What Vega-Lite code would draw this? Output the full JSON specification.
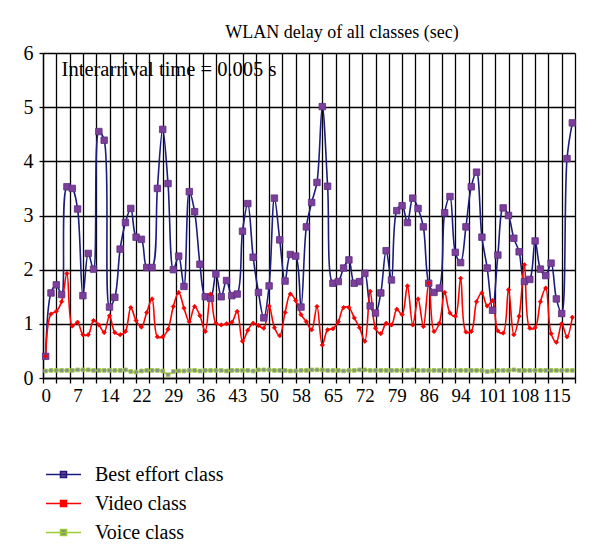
{
  "$schema": "https://vega.github.io/schema/vega-lite/v6.json",
  "autosize": "none",
  "width": 532,
  "height": 325,
  "padding": {"left": 43, "top": 53, "right": 25, "bottom": 179},
  "background": "white",
  "title": {"text": "WLAN delay of all classes (sec)", "font": "Liberation Serif, DejaVu Serif, serif", "fontSize": 18, "fontWeight": "normal", "color": "black", "dx": 33, "offset": 1},
  "config": {
    "view": {"stroke": null}
  },
  "data": {"values": [
    {"t":0,"Best effort class":0.40,"Video class":0.40,"Voice class":0.13},
    {"t":1.2,"Best effort class":1.57,"Video class":1.18,"Voice class":0.14},
    {"t":2.4,"Best effort class":1.72,"Video class":1.23,"Voice class":0.14},
    {"t":3.6,"Best effort class":1.54,"Video class":1.41,"Voice class":0.14},
    {"t":4.8,"Best effort class":3.53,"Video class":1.93,"Voice class":0.14},
    {"t":6,"Best effort class":3.50,"Video class":0.96,"Voice class":0.14},
    {"t":7.2,"Best effort class":3.12,"Video class":1.03,"Voice class":0.15},
    {"t":8.4,"Best effort class":1.52,"Video class":0.80,"Voice class":0.15},
    {"t":9.6,"Best effort class":2.30,"Video class":0.80,"Voice class":0.15},
    {"t":10.8,"Best effort class":2.01,"Video class":1.06,"Voice class":0.14},
    {"t":12,"Best effort class":4.55,"Video class":0.98,"Voice class":0.14},
    {"t":13.2,"Best effort class":4.39,"Video class":0.84,"Voice class":0.14},
    {"t":14.4,"Best effort class":1.31,"Video class":1.15,"Voice class":0.14},
    {"t":15.6,"Best effort class":1.49,"Video class":0.84,"Voice class":0.14},
    {"t":16.8,"Best effort class":2.38,"Video class":0.80,"Voice class":0.14},
    {"t":18,"Best effort class":2.87,"Video class":0.86,"Voice class":0.15},
    {"t":19.2,"Best effort class":3.13,"Video class":1.30,"Voice class":0.12},
    {"t":20.4,"Best effort class":2.60,"Video class":1.06,"Voice class":0.11},
    {"t":21.6,"Best effort class":2.56,"Video class":0.94,"Voice class":0.13},
    {"t":22.8,"Best effort class":2.04,"Video class":1.21,"Voice class":0.14},
    {"t":24,"Best effort class":2.04,"Video class":1.46,"Voice class":0.14},
    {"t":25.2,"Best effort class":3.50,"Video class":0.76,"Voice class":0.14},
    {"t":26.4,"Best effort class":4.59,"Video class":0.76,"Voice class":0.13},
    {"t":27.6,"Best effort class":3.59,"Video class":0.90,"Voice class":0.06},
    {"t":28.8,"Best effort class":2.00,"Video class":1.32,"Voice class":0.12},
    {"t":30,"Best effort class":2.25,"Video class":1.58,"Voice class":0.13},
    {"t":31.2,"Best effort class":1.69,"Video class":1.29,"Voice class":0.13},
    {"t":32.4,"Best effort class":3.44,"Video class":1.04,"Voice class":0.14},
    {"t":33.6,"Best effort class":3.07,"Video class":1.32,"Voice class":0.14},
    {"t":34.8,"Best effort class":2.10,"Video class":1.15,"Voice class":0.13},
    {"t":36,"Best effort class":1.50,"Video class":0.86,"Voice class":0.14},
    {"t":37.2,"Best effort class":1.47,"Video class":1.55,"Voice class":0.14},
    {"t":38.4,"Best effort class":1.92,"Video class":1.01,"Voice class":0.14},
    {"t":39.6,"Best effort class":1.50,"Video class":0.98,"Voice class":0.14},
    {"t":40.8,"Best effort class":1.80,"Video class":1.00,"Voice class":0.13},
    {"t":42,"Best effort class":1.52,"Video class":1.03,"Voice class":0.14},
    {"t":43.2,"Best effort class":1.55,"Video class":1.23,"Voice class":0.14},
    {"t":44.4,"Best effort class":2.71,"Video class":0.68,"Voice class":0.14},
    {"t":45.6,"Best effort class":3.22,"Video class":0.88,"Voice class":0.14},
    {"t":46.8,"Best effort class":2.23,"Video class":1.01,"Voice class":0.13},
    {"t":48,"Best effort class":1.58,"Video class":0.97,"Voice class":0.15},
    {"t":49.2,"Best effort class":1.11,"Video class":0.92,"Voice class":0.15},
    {"t":50.4,"Best effort class":1.70,"Video class":1.33,"Voice class":0.15},
    {"t":51.6,"Best effort class":3.32,"Video class":0.93,"Voice class":0.14},
    {"t":52.8,"Best effort class":2.55,"Video class":0.78,"Voice class":0.14},
    {"t":54,"Best effort class":1.79,"Video class":1.21,"Voice class":0.14},
    {"t":55.2,"Best effort class":2.28,"Video class":1.55,"Voice class":0.13},
    {"t":56.4,"Best effort class":2.25,"Video class":1.43,"Voice class":0.13},
    {"t":57.6,"Best effort class":1.31,"Video class":1.17,"Voice class":0.14},
    {"t":58.8,"Best effort class":2.79,"Video class":1.04,"Voice class":0.14},
    {"t":60,"Best effort class":3.24,"Video class":0.89,"Voice class":0.15},
    {"t":61.2,"Best effort class":3.61,"Video class":1.32,"Voice class":0.15},
    {"t":62.4,"Best effort class":5.01,"Video class":0.61,"Voice class":0.15},
    {"t":63.6,"Best effort class":3.54,"Video class":0.89,"Voice class":0.14},
    {"t":64.8,"Best effort class":1.75,"Video class":0.91,"Voice class":0.14},
    {"t":66,"Best effort class":1.78,"Video class":1.04,"Voice class":0.14},
    {"t":67.2,"Best effort class":2.03,"Video class":1.30,"Voice class":0.13},
    {"t":68.4,"Best effort class":2.18,"Video class":1.30,"Voice class":0.14},
    {"t":69.6,"Best effort class":1.75,"Video class":1.11,"Voice class":0.14},
    {"t":70.8,"Best effort class":1.78,"Video class":0.93,"Voice class":0.15},
    {"t":72,"Best effort class":1.93,"Video class":0.68,"Voice class":0.15},
    {"t":73.2,"Best effort class":1.33,"Video class":1.60,"Voice class":0.14},
    {"t":74.4,"Best effort class":1.20,"Video class":0.92,"Voice class":0.14},
    {"t":75.6,"Best effort class":1.57,"Video class":0.82,"Voice class":0.14},
    {"t":76.8,"Best effort class":2.35,"Video class":1.01,"Voice class":0.14},
    {"t":78,"Best effort class":1.81,"Video class":0.98,"Voice class":0.14},
    {"t":79.2,"Best effort class":3.09,"Video class":1.27,"Voice class":0.14},
    {"t":80.4,"Best effort class":3.18,"Video class":1.17,"Voice class":0.14},
    {"t":81.6,"Best effort class":2.87,"Video class":1.70,"Voice class":0.14},
    {"t":82.8,"Best effort class":3.32,"Video class":0.98,"Voice class":0.15},
    {"t":84,"Best effort class":3.13,"Video class":1.46,"Voice class":0.14},
    {"t":85.2,"Best effort class":2.79,"Video class":0.95,"Voice class":0.14},
    {"t":86.4,"Best effort class":1.75,"Video class":1.75,"Voice class":0.14},
    {"t":87.6,"Best effort class":1.58,"Video class":0.86,"Voice class":0.14},
    {"t":88.8,"Best effort class":1.66,"Video class":1.01,"Voice class":0.14},
    {"t":90,"Best effort class":3.05,"Video class":1.58,"Voice class":0.14},
    {"t":91.2,"Best effort class":3.35,"Video class":1.20,"Voice class":0.14},
    {"t":92.4,"Best effort class":2.32,"Video class":1.14,"Voice class":0.14},
    {"t":93.6,"Best effort class":2.13,"Video class":1.84,"Voice class":0.14},
    {"t":94.8,"Best effort class":2.79,"Video class":0.85,"Voice class":0.14},
    {"t":96,"Best effort class":3.53,"Video class":0.86,"Voice class":0.14},
    {"t":97.2,"Best effort class":3.80,"Video class":1.41,"Voice class":0.14},
    {"t":98.4,"Best effort class":2.60,"Video class":1.57,"Voice class":0.14},
    {"t":99.6,"Best effort class":2.03,"Video class":1.33,"Voice class":0.12},
    {"t":100.8,"Best effort class":1.25,"Video class":1.43,"Voice class":0.13},
    {"t":102,"Best effort class":2.27,"Video class":0.87,"Voice class":0.14},
    {"t":103.2,"Best effort class":3.14,"Video class":0.83,"Voice class":0.14},
    {"t":104.4,"Best effort class":3.00,"Video class":1.63,"Voice class":0.14},
    {"t":105.6,"Best effort class":2.58,"Video class":0.80,"Voice class":0.15},
    {"t":106.8,"Best effort class":2.33,"Video class":1.14,"Voice class":0.14},
    {"t":108,"Best effort class":1.78,"Video class":2.09,"Voice class":0.14},
    {"t":109.2,"Best effort class":1.82,"Video class":0.92,"Voice class":0.14},
    {"t":110.4,"Best effort class":2.53,"Video class":0.93,"Voice class":0.14},
    {"t":111.6,"Best effort class":2.01,"Video class":1.41,"Voice class":0.14},
    {"t":112.8,"Best effort class":1.89,"Video class":1.66,"Voice class":0.14},
    {"t":114,"Best effort class":2.12,"Video class":0.82,"Voice class":0.14},
    {"t":115.2,"Best effort class":1.46,"Video class":0.66,"Voice class":0.14},
    {"t":116.4,"Best effort class":1.19,"Video class":1.00,"Voice class":0.14},
    {"t":117.6,"Best effort class":4.05,"Video class":0.76,"Voice class":0.14},
    {"t":118.8,"Best effort class":4.71,"Video class":1.12,"Voice class":0.14}
  ]},
  "transform": [{"fold": ["Best effort class", "Video class", "Voice class"], "as": ["cls", "v"]}],
  "resolve": {"axis": {"x": "independent"}},
  "layer": [
    {
      "mark": {"type": "line", "interpolate": "catmull-rom", "strokeWidth": 1.6},
      "encoding": {
        "x": {"field": "t", "type": "quantitative", "scale": {"domain": [-0.6, 119.4], "nice": false, "zero": false},
          "axis": {"orient": "bottom", "values": [-0.6, 2.4, 5.4, 8.4, 11.4, 14.4, 17.4, 20.4, 23.4, 26.4, 29.4, 32.4, 35.4, 38.4, 41.4, 44.4, 47.4, 50.4, 53.4, 56.4, 59.4, 62.4, 65.4, 68.4, 71.4, 74.4, 77.4, 80.4, 83.4, 86.4, 89.4, 92.4, 95.4, 98.4, 101.4, 104.4, 107.4, 110.4, 113.4, 116.4, 119.4],
            "labels": false, "grid": true, "gridColor": "black", "gridWidth": 1.3, "gridOpacity": 1, "ticks": true, "tickColor": "black", "tickSize": 5, "tickWidth": 1.3, "domainColor": "black", "domainWidth": 1.3, "title": null}},
        "y": {"field": "v", "type": "quantitative", "scale": {"domain": [0, 6], "nice": false},
          "axis": {"values": [0, 1, 2, 3, 4, 5, 6], "format": "d", "grid": true, "gridColor": "black", "gridWidth": 1.3, "gridOpacity": 1, "domainColor": "black", "domainWidth": 1.3, "tickColor": "black", "tickSize": 4, "tickWidth": 1.3, "labelFont": "Liberation Serif, DejaVu Serif, serif", "labelFontSize": 20, "labelColor": "black", "labelPadding": 6, "title": null}},
        "color": {"field": "cls", "type": "nominal",
          "scale": {"domain": ["Best effort class", "Video class", "Voice class"], "range": ["#1c1c7c", "#ff0000", "#9acd32"]},
          "legend": {"title": null, "orient": "none", "legendX": 2, "legendY": 403,
            "symbolType": "M-1,0H1M-0.17,-0.17H0.17V0.17H-0.17Z", "symbolSize": 1225, "symbolStrokeWidth": 1.6,
            "labelFont": "Liberation Serif, DejaVu Serif, serif", "labelFontSize": 20, "labelColor": "black", "labelOffset": 13, "rowPadding": -9,
            "encode": {"symbols": {"update": {
              "fill": {"signal": "datum.value === 'Best effort class' ? '#7d3f9b' : datum.value === 'Video class' ? '#ff0000' : '#7f7f8f'"},
              "fillOpacity": {"value": 1},
              "opacity": {"value": 1}}}}}}
      }
    },
    {
      "transform": [{"filter": "datum.cls === 'Best effort class'"}],
      "mark": {"type": "point", "shape": "square", "filled": true, "fill": "#7d3f9b", "stroke": "#5a2d82", "strokeWidth": 0.8, "size": 42, "opacity": 1},
      "encoding": {
        "x": {"field": "t", "type": "quantitative",
          "axis": {"orient": "bottom", "values": [0, 7.2, 14.4, 21.6, 28.8, 36, 43.2, 50.4, 57.6, 64.8, 72, 79.2, 86.4, 93.6, 100.8, 108, 115.2], "format": ".0f",
            "grid": false, "ticks": false, "domain": false, "labelFont": "Liberation Serif, DejaVu Serif, serif", "labelFontSize": 19, "labelColor": "black", "labelPadding": 8, "labelFlush": false, "labelOverlap": false, "title": null}},
        "y": {"field": "v", "type": "quantitative"}
      }
    },
    {
      "transform": [{"filter": "datum.cls === 'Video class'"}],
      "mark": {"type": "point", "shape": "diamond", "filled": true, "fill": "#ff0000", "stroke": "#e00000", "strokeWidth": 0.6, "size": 20, "opacity": 1},
      "encoding": {
        "x": {"field": "t", "type": "quantitative", "axis": null},
        "y": {"field": "v", "type": "quantitative"}
      }
    },
    {
      "transform": [{"filter": "datum.cls === 'Voice class'"}],
      "mark": {"type": "point", "shape": "square", "filled": true, "fill": "#8a8a9a", "stroke": "#9acd32", "strokeWidth": 0.8, "size": 14, "opacity": 1},
      "encoding": {
        "x": {"field": "t", "type": "quantitative", "axis": null},
        "y": {"field": "v", "type": "quantitative"}
      }
    },
    {
      "data": {"values": [{"label": "Interarrival time = 0.005 s"}]},
      "mark": {"type": "text", "align": "left", "baseline": "middle", "font": "Liberation Serif, DejaVu Serif, serif", "fontSize": 20.5, "color": "black"},
      "encoding": {
        "x": {"datum": 3.6, "type": "quantitative", "axis": null},
        "y": {"datum": 5.69, "type": "quantitative"},
        "text": {"field": "label"}
      }
    }
  ]
}
